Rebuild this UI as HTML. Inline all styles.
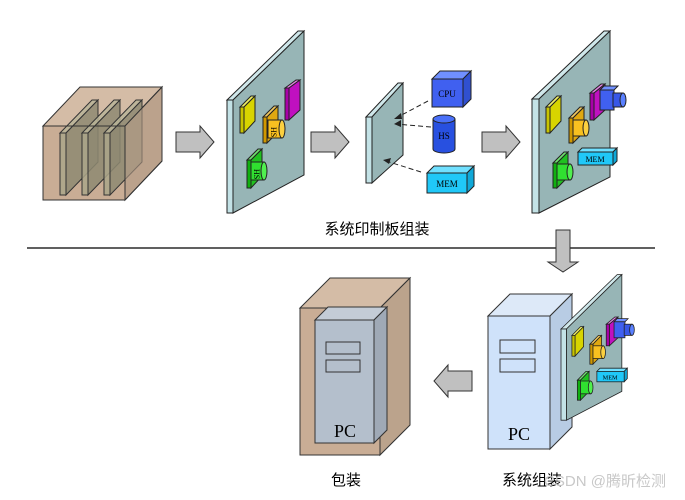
<!DOCTYPE html>
<html><head><meta charset="utf-8"><style>
html,body{margin:0;padding:0;background:#fff;width:685px;height:500px;overflow:hidden}
svg{display:block}
text{font-family:"Liberation Serif","Noto Serif CJK SC",serif}
.cn{font-family:"Liberation Sans","Noto Sans CJK SC",sans-serif}
</style></head><body>
<svg width="685" height="500" viewBox="0 0 685 500" xmlns="http://www.w3.org/2000/svg">
<defs>
<g id="arrowR"><polygon points="0,6 24,6 24,0 38,16 24,32 24,26 0,26" fill="#c0c0c0" stroke="#333" stroke-width="1"/></g>
</defs>

<!-- left box -->
<g stroke="#333" stroke-width="1">
<polygon points="43,126 80,87 162,87 125,126" fill="#d4bca6"/>
<polygon points="125,126 162,87 162,161 125,200" fill="#bba38c"/>
<rect x="43" y="126" width="82" height="74" fill="#c9ad95"/>
</g>
<g stroke="#333" stroke-width="1" fill-opacity="0.85">
<polygon points="60,133 92,100 98,100 66,133" fill="#b8b498"/>
<polygon points="66,133 98,100 98,162 66,195" fill="#8e8a72"/>
<rect x="60" y="133" width="6" height="62" fill="#aaa68a"/>
<polygon points="82,133 114,100 120,100 88,133" fill="#b8b498"/>
<polygon points="88,133 120,100 120,162 88,195" fill="#8e8a72"/>
<rect x="82" y="133" width="6" height="62" fill="#aaa68a"/>
<polygon points="104,133 136,100 142,100 110,133" fill="#b8b498"/>
<polygon points="110,133 142,100 142,162 110,195" fill="#8e8a72"/>
<rect x="104" y="133" width="6" height="62" fill="#aaa68a"/>
</g>
<polygon points="125,126 162,87 162,161 125,200" fill="#bba38c" fill-opacity="0.55" stroke="#333"/>
<rect x="43" y="126" width="82" height="74" fill="none" stroke="#333"/>

<use href="#arrowR" x="176" y="126"/>
<use href="#arrowR" x="311" y="126"/>
<use href="#arrowR" x="482" y="126"/>

<!-- board 1 -->
<g stroke="#222" stroke-width="1">
<polygon points="227,100 298,31 304,31 233,100" fill="#cfe7ea"/>
<polygon points="233,100 304,31 304,175 233,213" fill="#97b5b6"/>
<rect x="227" y="100" width="6" height="113" fill="#c3e2e6"/>
<!-- yellow -->
<polygon points="240,107 251,96 255,96 244,107" fill="#eeee66"/>
<polygon points="244,107 255,96 255,121 244,133" fill="#d8d400"/>
<rect x="240" y="107" width="4" height="26" fill="#c8c400"/>
<!-- magenta -->
<polygon points="285,88 296,80 300,80 289,88" fill="#e080e0"/>
<polygon points="289,88 300,80 300,110 289,120" fill="#c010c0"/>
<rect x="285" y="88" width="4" height="32" fill="#a800a8"/>
<!-- orange -->
<polygon points="263,117 274,106 278,106 267,117" fill="#f0c860"/>
<polygon points="267,117 278,106 278,132 267,143" fill="#e0a810"/>
<rect x="263" y="117" width="4" height="26" fill="#d09800"/>
<rect x="268" y="120" width="14" height="18" fill="#f8c020"/>
<ellipse cx="282" cy="129" rx="3" ry="9" fill="#fbd040"/>
<!-- green -->
<polygon points="247,160 258,149 262,149 251,160" fill="#70e070"/>
<polygon points="251,160 262,149 262,176 251,188" fill="#20c020"/>
<rect x="247" y="160" width="4" height="28" fill="#10b010"/>
<rect x="251" y="162" width="13" height="18" fill="#30e030"/>
<ellipse cx="264" cy="171" rx="3" ry="9" fill="#50f050"/>
</g>
<text x="271" y="133" font-size="8" transform="rotate(90 274 130)">HS</text>
<text x="254" y="175" font-size="8" transform="rotate(90 257 172)">HS</text>

<!-- board 2 -->
<g stroke="#222" stroke-width="1">
<polygon points="366,117 398,83 403,83 372,117" fill="#cfe7ea"/>
<polygon points="372,117 403,83 403,155 372,183" fill="#97b5b6"/>
<rect x="366" y="117" width="6" height="66" fill="#c3e2e6"/>
<!-- CPU -->
<polygon points="432,79 440,71 471,71 463,79" fill="#7090ff"/>
<polygon points="463,79 471,71 471,99 463,107" fill="#3050d0"/>
<rect x="432" y="79" width="31" height="28" fill="#4060f0"/>
<!-- HS -->
<path d="M433,119 v30 a11,4 0 0 0 22,0 v-30" fill="#2850e0"/>
<ellipse cx="444" cy="119" rx="11" ry="4" fill="#4a70f8"/>
<!-- MEM -->
<polygon points="427,173 434,166 474,166 467,173" fill="#70e0ff"/>
<polygon points="467,173 474,166 474,186 467,193" fill="#10a8d8"/>
<rect x="427" y="173" width="40" height="20" fill="#20c8f8"/>
</g>
<text x="447" y="97" font-size="9" text-anchor="middle">CPU</text>
<text x="444" y="139" font-size="9" text-anchor="middle">HS</text>
<text x="447" y="187" font-size="9" text-anchor="middle">MEM</text>
<g stroke="#222" stroke-width="1" stroke-dasharray="5,3" fill="none">
<line x1="428" y1="101" x2="396" y2="118"/>
<line x1="431" y1="127" x2="396" y2="124"/>
<line x1="421" y1="172" x2="386" y2="161"/>
</g>
<g fill="#222">
<polygon points="394,119 401,113 402,119"/>
<polygon points="394,124 401,120 401,127"/>
<polygon points="383,160 391,158 389,164"/>
</g>

<!-- board 4 -->
<g id="b4">
<g stroke="#222" stroke-width="1">
<polygon points="532,99 604,31 610,31 539,99" fill="#cfe7ea"/>
<polygon points="539,99 610,31 610,177 539,213" fill="#97b5b6"/>
<rect x="532" y="99" width="7" height="114" fill="#c3e2e6"/>
<polygon points="546,107 557,96 561,96 550,107" fill="#eeee66"/>
<polygon points="550,107 561,96 561,121 550,133" fill="#d8d400"/>
<rect x="546" y="107" width="4" height="26" fill="#c8c400"/>
<polygon points="590,93 601,84 605,84 594,93" fill="#e080e0"/>
<polygon points="594,93 605,84 605,110 594,120" fill="#c010c0"/>
<rect x="590" y="93" width="4" height="27" fill="#a800a8"/>
<polygon points="600,90 604,86 618,86 614,90" fill="#7090ff"/>
<rect x="600" y="90" width="14" height="20" fill="#4060f0"/>
<rect x="613" y="93" width="10" height="14" fill="#3858e8"/>
<ellipse cx="623" cy="100" rx="3" ry="7" fill="#5a80ff"/>
<polygon points="569,118 580,107 584,107 573,118" fill="#f0c860"/>
<polygon points="573,118 584,107 584,132 573,143" fill="#e0a810"/>
<rect x="569" y="118" width="4" height="25" fill="#d09800"/>
<rect x="573" y="120" width="13" height="16" fill="#f8c020"/>
<ellipse cx="586" cy="128" rx="3" ry="8" fill="#fbd040"/>
<polygon points="553,163 564,152 568,152 557,163" fill="#70e070"/>
<polygon points="557,163 568,152 568,177 557,188" fill="#20c020"/>
<rect x="553" y="163" width="4" height="25" fill="#10b010"/>
<rect x="557" y="164" width="13" height="16" fill="#30e030"/>
<ellipse cx="570" cy="172" rx="3" ry="8" fill="#50f050"/>
<polygon points="578,152 582,148 617,148 613,152" fill="#70e0ff"/>
<polygon points="613,152 617,148 617,161 613,165" fill="#10a8d8"/>
<rect x="578" y="152" width="35" height="13" fill="#20c8f8"/>
</g>
<text x="595" y="162" font-size="8" text-anchor="middle">MEM</text>
</g>

<!-- text & line -->
<text x="377" y="234" font-size="15" text-anchor="middle" class="cn">系统印制板组装</text>
<line x1="27" y1="248" x2="655" y2="248" stroke="#000" stroke-width="1.2"/>
<polygon points="556,230 570,230 570,262 578,262 563,272 548,262 556,262" fill="#c0c0c0" stroke="#333"/>

<!-- package -->
<g stroke="#333" stroke-width="1">
<polygon points="300,308 330,278 410,278 380,308" fill="#d4bca6"/>
<polygon points="380,308 410,278 410,425 380,455" fill="#bba38c"/>
<rect x="300" y="308" width="80" height="147" fill="#c9ad95"/>
<polygon points="315,320 328,307 387,307 374,320" fill="#c4ccd6"/>
<polygon points="374,320 387,307 387,430 374,443" fill="#9fa9b6"/>
<rect x="315" y="320" width="59" height="123" fill="#b4bfcc"/>
<rect x="326" y="342" width="34" height="12" fill="#b4bfcc"/>
<rect x="326" y="360" width="34" height="12" fill="#b4bfcc"/>
</g>
<text x="345" y="437" font-size="18" text-anchor="middle">PC</text>
<text x="346" y="485" font-size="15" text-anchor="middle" class="cn">包装</text>

<g transform="translate(472,380) scale(-1,1)"><use href="#arrowR" x="0" y="-15"/></g>

<!-- system PC -->
<g stroke="#333" stroke-width="1">
<polygon points="488,316 510,294 572,294 550,316" fill="#dde9f8"/>
<polygon points="550,316 572,294 572,427 550,449" fill="#b8cce4"/>
<rect x="488" y="316" width="62" height="133" fill="#cfe2fa"/>
<rect x="500" y="340" width="35" height="13" fill="#cfe2fa"/>
<rect x="500" y="359" width="35" height="13" fill="#cfe2fa"/>
</g>
<text x="519" y="440" font-size="18" text-anchor="middle">PC</text>
<g transform="translate(561,329) scale(0.78,0.8) translate(-532,-99)">
<use href="#b4"/>
</g>
<text x="532" y="485" font-size="15" text-anchor="middle" class="cn">系统组装</text>
<text x="605" y="486" font-size="15" text-anchor="middle" class="cn" fill="#c8c8c8">CSDN @腾昕检测</text>
</svg>
</body></html>
